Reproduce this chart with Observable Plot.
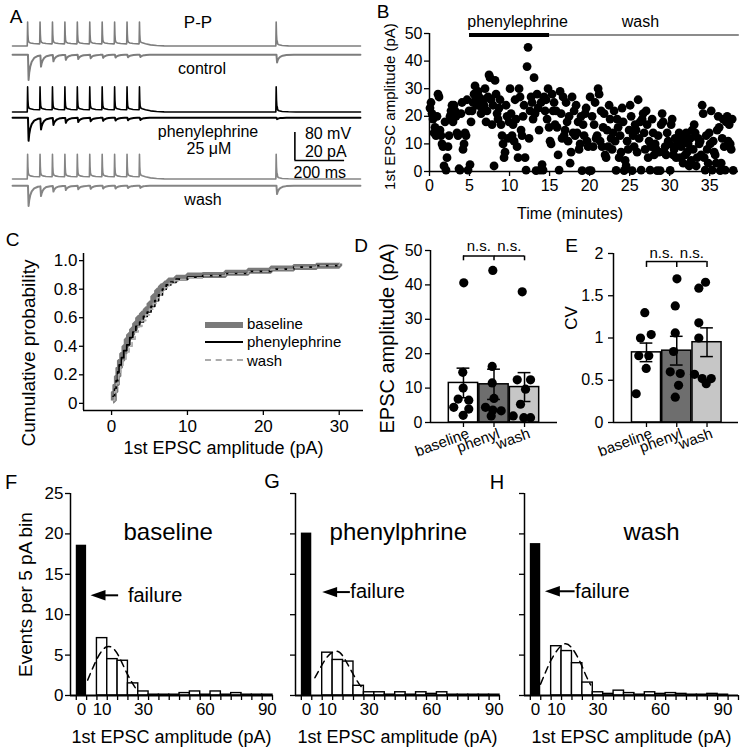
<!DOCTYPE html>
<html>
<head>
<meta charset="utf-8">
<script src="https://cdn.jsdelivr.net/npm/d3@7"></script>
<script src="https://cdn.jsdelivr.net/npm/@observablehq/plot@0.6"></script>
<style>
html,body{margin:0;padding:0;background:#fff;}
#fig{position:relative;width:749px;height:755px;overflow:hidden;background:#fff;font-family:"Liberation Sans",Arial,Helvetica,sans-serif;color:#000;}
.lbl{position:absolute;line-height:1;white-space:nowrap;}
</style>
</head>
<body>
<div id="fig"></div>
<script>
// ================= DATA =================
// --- A: example traces (P-P paired recording) ---
const spikeTimesMs = [60, 110, 160, 210, 260, 310, 360, 410, 460, 510, 1060];
const traceEndMs = 1400;
const restPotentialMv = -65;
const spikePeakMv = [68, 71, 70];               // control, phenylephrine, wash
const epscControlPa = [-18, -8, -4.5, -3.5, -3, -2.5, -2.2, -2, -1.8, -1.6, -5.5];
const epscPhenylPa  = [-16.5, -8, -5, -3.5, -3, -2.5, -2.2, -2, -1.8, -1.6, -1];
const epscWashPa    = [-14.5, -7, -4, -3, -2.5, -2.2, -2, -2, -1.6, -1.5, -6];
// waveform templates: [ms after spike, fraction of peak]
const spikeRise = [[0.8, 1], [2, 0.5], [3.5, 0.25], [6, 0.16]];
const interSpikeDecay = [[12, 0.125], [25, 0.1], [48, 0.088]];
const trainEndDecay = [[12, 0.13], [25, 0.09], [45, 0.045], [70, 0.018], [100, 0.005], [140, 0]];
const singleSpikeDecay = [[6, 0.09], [12, 0.05], [25, 0.02], [50, 0.006], [80, 0]];
const epscShape = [[0, 0], [2.5, 1], [5, 0.72], [9, 0.48], [15, 0.28], [25, 0.13], [40, 0.05], [70, 0]];
const synDelayMs = 2;
const scaleBarMs = 200, scaleBarMv = 80, scaleBarPa = 20;

// --- B: 1st EPSC amplitude over time (one sweep every 7.5 s) ---
const sweepIntervalMin = 0.125;
const bAmplitudesPa = [
  23,25,21,19,14,16,13,20,   28,27,15,13,10,9,2,18,    0.5,5,9,13,20,22,24,18,   24,22,20,14,13,1,0.5,21,
  25,8,10,14,13,26,0.5,22,   2.5,18,22,25,28,31,27,24, 29,27,25,21,23,26,24,30,  18,22,27,35,34,26,17,24,
  2,33,28,21,19,23,26,17,    13,10,5,7,24,20,12,18,    30,21,13,17,11,26,19,9,   5,30,27,15,13,20,24,5,
  0.5,38,45,12,22,27,25,19,  34,21,0.3,28,23,15,0.5,25,2.5,0.5,27,22,26,19,30,16,11,10,28,22,25,17,22,16,
  6,0.5,29,21,12,27,13,15,   25,18,11,20,3,7,27,14,    22,13,24,14,18,8,10,20,   0.3,17,13,21,23,11,9,0.3,
  27,0.3,20,9,17,25,12,13,   30,28,11,22,9,16,21,6,    5,15,9,24,19,12,8,14,     22,11,0.4,19,16,5,13,7,
  23,18,0.3,4,2,11,8,15,     24,20,0.3,13,9,17,15,7,   26,12,18,0.5,19,21,14,8,  22,17,5,11,0.5,9,19,14,
  6,10,8,0.3,13,7,0.3,17,    21,18,7,9,6,14,11,10,     0.4,17,19,6,8,12,5,10,    12,14,5,9,13,3,11,6,
  14,7,10,2,12,4,15,8,       17,14,2,5,12,10,11,6,     24,21,5,0.5,13,8,3,14,    10,22,0.5,11,7,6,3,15,
  20,16,0.3,3,12,19,9,0.5,   18,20,11,17,10,8,19,0.4
];
const treatmentLabels = ["phenylephrine", "wash"];
const treatmentStartMin = [5, 15];
const treatmentEndMin = [15, 38.7];

// --- C: cumulative distributions ---
const cdfBaselineAmp  = [0.2,0.3,0.5,0.7,0.9,1.1,1.4,1.7,2.0,2.3,2.7,3.1,3.5,4.0,4.5,5.0,5.5,6.0,6.5,7.0,7.5,8.5,10,12,15,18,21,24,27,30];
const cdfBaselineProb = [0.02,0.08,0.13,0.19,0.25,0.30,0.35,0.40,0.45,0.48,0.52,0.56,0.60,0.63,0.66,0.70,0.75,0.79,0.82,0.84,0.86,0.88,0.895,0.90,0.915,0.93,0.945,0.955,0.965,0.98];
const cdfPhenylAmp  = [0.2,0.4,0.6,0.8,1.0,1.3,1.6,2.0,2.4,2.8,3.2,3.7,4.2,4.7,5.2,5.7,6.2,6.7,7.2,7.8,8.5,10,12,15,18,21,24,27,30];
const cdfPhenylProb = [0.05,0.10,0.16,0.22,0.27,0.32,0.37,0.41,0.46,0.50,0.54,0.57,0.61,0.64,0.68,0.72,0.76,0.80,0.83,0.85,0.87,0.885,0.895,0.91,0.925,0.94,0.955,0.965,0.98];
const cdfWashAmp  = [0.2,0.4,0.6,0.9,1.2,1.5,1.9,2.3,2.7,3.1,3.5,4.0,4.5,5.0,5.5,6.0,6.5,7.0,7.6,8.3,9,10,12,15,18,21,24,27,30];
const cdfWashProb = [0.02,0.08,0.14,0.20,0.26,0.31,0.36,0.40,0.45,0.50,0.54,0.58,0.62,0.66,0.70,0.74,0.78,0.81,0.84,0.86,0.87,0.88,0.895,0.91,0.925,0.94,0.955,0.965,0.98];

// --- D / E: summary bars ---
const groupLabels = ["baseline", "phenyl", "wash"];
const dMeanPa = [11.5, 11.1, 10.3];
const dSemPa = [4.3, 4.4, 4.2];
const dBaselineCells = [40.6, 14.6, 10.0, 6.8, 6.5, 4.4, 3.9, 2.1];
const dPhenylCells   = [44.2, 16.3, 11.5, 7.0, 4.4, 3.6, 3.4, 1.9];
const dWashCells     = [38.0, 12.4, 12.4, 9.7, 5.3, 1.9, 1.4, 1.4];
const eMeanCv = [0.83, 0.85, 0.95];
const eSemCv = [0.11, 0.17, 0.17];
const eBaselineCells = [1.30, 1.00, 1.04, 0.79, 0.79, 0.64, 0.34];
const ePhenylCells   = [1.70, 1.38, 1.06, 0.84, 0.60, 0.58, 0.44, 0.30];
const eWashCells     = [1.66, 1.59, 1.18, 1.00, 0.57, 0.52, 0.52, 0.46];
const significance = ["n.s.", "n.s."];

// --- F / G / H: amplitude histograms (5 pA bins) ---
const histBinCentersPa = [10,15,20,25,30,35,40,45,50,55,60,65,70,75,80,85,90];
const histBaseline = [7.1,4.5,4.3,1.5,0.5,0.1,0.1,0.1,0.3,0.5,0.1,0.5,0.1,0.3,0.1,0.1,0.1];
const histPhenyl   = [5.3,4.4,4.2,1.2,0.4,0.4,0.1,0.4,0.1,0.4,0.2,0.4,0.1,0.1,0.1,0.1,0.1];
const histWash     = [6.1,5.5,4.0,1.6,0.4,0.2,0.6,0.3,0.1,0.4,0.2,0.3,0.2,0.1,0.1,0.2,0.1];
const failureCounts = [18.6, 20.1, 18.8];
const fitBaseline = [[3,1.9],[6,3.7],[9,5.2],[12,6.0],[15,5.9],[18,4.9],[21,3.3],[24,1.8],[26.5,0.8]];
const fitPhenyl   = [[4,2.2],[7,3.6],[10,4.8],[13,5.4],[16,5.3],[19,4.2],[22,2.8],[25,1.5],[27,0.9]];
const fitWash     = [[2.4,1.4],[5,3.0],[7.5,4.4],[11,5.8],[14.5,6.4],[18,5.7],[21.5,4.1],[24,2.6],[26.5,1.3]];
const histTitles = ["baseline", "phenylphrine", "wash"];

// ================= RENDER =================
const FONT = '"Liberation Sans", Arial, Helvetica, sans-serif';
const fig = document.getElementById("fig");
const baseStyle = {fontFamily: FONT, fontSize: "16px", color: "black", background: "transparent", overflow: "visible"};
function mount(svg, left, top) {
  svg.style.position = "absolute";
  svg.style.left = left + "px";
  svg.style.top = top + "px";
  svg.style.maxWidth = "none";
  svg.style.overflow = "visible";
  svg.style.background = "transparent";
  fig.appendChild(svg);
}
function label(txt, cx, cy, size, align = "center") {
  const d = document.createElement("div");
  d.className = "lbl";
  d.textContent = txt;
  d.style.fontSize = size + "px";
  d.style.left = cx + "px";
  d.style.top = cy + "px";
  d.style.transform = align === "center" ? "translate(-50%,-50%)" : "translate(0,-50%)";
  fig.appendChild(d);
}

// ---------- Panel A ----------
function voltageTrace(peak) {
  const pts = [{t: 0, v: restPotentialMv}];
  spikeTimesMs.forEach((s, k) => {
    pts.push({t: s - 0.6, v: pts[pts.length - 1].v});
    const tail = k < 9 ? interSpikeDecay : k === 9 ? trainEndDecay : singleSpikeDecay;
    for (const [dt, f] of [...spikeRise, ...tail]) pts.push({t: s + dt, v: restPotentialMv + f * peak});
  });
  pts.push({t: traceEndMs, v: restPotentialMv});
  return pts;
}
function tpl(shape, x) {
  if (x <= shape[0][0] || x >= shape[shape.length - 1][0]) return 0;
  for (let k = 1; k < shape.length; k++) {
    if (x <= shape[k][0]) {
      const [x0, y0] = shape[k - 1], [x1, y1] = shape[k];
      return y0 + (y1 - y0) * (x - x0) / (x1 - x0);
    }
  }
  return 0;
}
function currentTrace(amps) {
  const knots = new Set([0, traceEndMs]);
  spikeTimesMs.forEach(s => epscShape.forEach(([dt]) => knots.add(s + synDelayMs + dt)));
  return [...knots].sort((a, b) => a - b).map(t => ({
    t, i: d3.sum(spikeTimesMs, (s, k) => amps[k] * tpl(epscShape, t - s - synDelayMs))
  }));
}
const A_LEFT = 12, A_W = 348;
const V_DOMAIN = [-75, 10], V_H = 30;
const I_DOMAIN = [-20, 3], I_H = 32.2;
function tracePlot(data, key, domain, h, color, sw) {
  return Plot.plot({
    width: A_W, height: h, margin: 0, style: baseStyle,
    x: {domain: [0, traceEndMs], axis: null}, y: {domain: domain, axis: null},
    marks: [Plot.line(data, {x: "t", y: key, stroke: color, strokeWidth: sw})]
  });
}
const aRows = [
  {peak: spikePeakMv[0], epsc: epscControlPa, color: "#7d7d7d", vBase: 45, iBase: 54},
  {peak: spikePeakMv[1], epsc: epscPhenylPa, color: "#000000", vBase: 111, iBase: 117},
  {peak: spikePeakMv[2], epsc: epscWashPa, color: "#858585", vBase: 178, iBase: 185}
];
const vRestPix = V_H - (restPotentialMv - V_DOMAIN[0]) / (V_DOMAIN[1] - V_DOMAIN[0]) * V_H;
const iZeroPix = I_H * (I_DOMAIN[1]) / (I_DOMAIN[1] - I_DOMAIN[0]);
aRows.forEach(r => {
  mount(tracePlot(voltageTrace(r.peak), "v", V_DOMAIN, V_H, r.color, 1.6), A_LEFT, r.vBase - vRestPix);
  mount(tracePlot(currentTrace(r.epsc), "i", I_DOMAIN, I_H, r.color, 2.0), A_LEFT, r.iBase - iZeroPix);
});
// scale bar (80 mV / 20 pA vertical, 200 ms horizontal)
const barAt = 1136;
mount(Plot.plot({
  width: A_W, height: 28, margin: 0, style: baseStyle,
  x: {domain: [0, traceEndMs], axis: null}, y: {domain: [0, scaleBarMv], axis: null},
  marks: [
    Plot.ruleX([barAt], {y1: 0, y2: scaleBarMv, strokeWidth: 1.6}),
    Plot.ruleY([0], {x1: barAt, x2: barAt + scaleBarMs, strokeWidth: 1.6}),
    Plot.text([`${scaleBarMv} mV`], {x: barAt, y: 77, dx: 10, textAnchor: "start", fontSize: 16}),
    Plot.text([`${scaleBarPa} pA`], {x: barAt, y: 26, dx: 10, textAnchor: "start", fontSize: 16}),
    Plot.text([`${scaleBarMs} ms`], {x: barAt + scaleBarMs / 2, y: -36, fontSize: 16})
  ]
}), A_LEFT, 132);
label("P-P", 198, 21.5, 17);
label("control", 202, 69, 16);
label("phenylephrine", 208, 131.5, 16);
label("25 μM", 209, 148.5, 16);
label("wash", 203, 200, 16);

// ---------- Panel B ----------
const bData = bAmplitudesPa.map((a, k) => ({t: (k + 0.5) * sweepIntervalMin, amp: a}));
const periods = treatmentLabels.map((l, k) => ({label: l, start: treatmentStartMin[k], end: treatmentEndMin[k]}));
mount(Plot.plot({
  width: 374, height: 220, marginLeft: 54, marginRight: 11, marginTop: 33, marginBottom: 49,
  style: baseStyle,
  x: {domain: [0, 38.6]}, y: {domain: [0, 50]},
  marks: [
    Plot.ruleX([0], {y1: 0, y2: 50, strokeWidth: 1.5}),
    Plot.ruleY([0], {x1: 0, x2: 38.6, strokeWidth: 1.5}),
    Plot.axisX({ticks: [0, 5, 10, 15, 20, 25, 30, 35], tickSize: 5, tickPadding: 3, fontSize: 16, strokeWidth: 1.3, label: null}),
    Plot.axisY({ticks: [0, 10, 20, 30, 40, 50], tickSize: 5, tickPadding: 2, fontSize: 16, strokeWidth: 1.3, label: null}),
    Plot.dot(bData, {x: "t", y: "amp", r: 4.4, fill: "black"}),
    Plot.ruleY(periods.slice(1), {y: 49.5, x1: "start", x2: "end", stroke: "#8c8c8c", strokeWidth: 2}),
    Plot.ruleY(periods.slice(0, 1), {y: 49.5, x1: "start", x2: "end", stroke: "black", strokeWidth: 4}),
    Plot.text(periods.slice(0, 1), {x: d => (d.start + d.end) / 2, y: 49.5, text: "label", dy: -13, dx: 8, fontSize: 16}),
    Plot.text(periods.slice(1), {x: d => (d.start + d.end) / 2, y: 49.5, text: "label", dy: -13, dx: -4, fontSize: 16}),
    Plot.text(["1st EPSC amplitude (pA)"], {frameAnchor: "left", rotate: -90, dx: -39, dy: 4, textAnchor: "middle", lineAnchor: "middle", fontSize: 15}),
    Plot.text(["Time (minutes)"], {frameAnchor: "bottom", dy: 42, dx: -14, lineAnchor: "middle", fontSize: 16})
  ]
}), 375, 0);

// ---------- Panel C ----------
const toPts = (xs, ys) => xs.map((x, k) => ({x, p: ys[k]}));
mount(Plot.plot({
  width: 370, height: 235, marginLeft: 83, marginRight: 7, marginTop: 28, marginBottom: 50,
  style: baseStyle,
  x: {domain: [-3.7, 33.2]}, y: {domain: [-0.05, 1.05]},
  marks: [
    Plot.ruleX([-3.7], {y1: -0.05, y2: 1.05, strokeWidth: 1.5}),
    Plot.ruleY([-0.05], {x1: -3.7, x2: 33.2, strokeWidth: 1.5}),
    Plot.axisY({ticks: [0, 0.2, 0.4, 0.6, 0.8, 1], tickSize: 4, tickPadding: 2, tickFormat: d => d === 0 ? "0" : d.toFixed(1), fontSize: 17, strokeWidth: 1.3, label: null}),
    Plot.axisX({ticks: [0, 10, 20, 30], tickSize: 5, tickPadding: 4, fontSize: 17, strokeWidth: 1.3, label: null}),
    Plot.line(toPts(cdfBaselineAmp, cdfBaselineProb), {x: "x", y: "p", curve: "step-after", stroke: "#7a7a7a", strokeWidth: 6, strokeLinecap: "butt", strokeLinejoin: "miter"}),
    Plot.line(toPts(cdfPhenylAmp, cdfPhenylProb), {x: "x", y: "p", curve: "step-after", stroke: "black", strokeWidth: 1.7}),
    Plot.line(toPts(cdfWashAmp, cdfWashProb), {x: "x", y: "p", curve: "step-after", stroke: "#ababab", strokeWidth: 1.7, strokeDasharray: "5,4"}),
    Plot.text(["Cumulative probability"], {frameAnchor: "left", rotate: -90, dx: -55, dy: 21, textAnchor: "middle", lineAnchor: "middle", fontSize: 19}),
    Plot.text(["1st EPSC amplitude (pA)"], {frameAnchor: "bottom", dy: 38, lineAnchor: "middle", fontSize: 18})
  ]
}), 0, 225);
// legend C
function legendSwatch(x1, x2, y, h, css) {
  const d = document.createElement("div");
  d.style.position = "absolute";
  d.style.left = x1 + "px";
  d.style.width = (x2 - x1) + "px";
  d.style.top = (y - h / 2) + "px";
  Object.assign(d.style, css);
  fig.appendChild(d);
}
legendSwatch(205, 243, 324.5, 6, {height: "6px", background: "#7a7a7a"});
legendSwatch(205, 243, 342, 2, {height: "2px", background: "#000"});
legendSwatch(205, 243, 360, 2, {height: "0px", borderTop: "2px dashed #ababab"});
label("baseline", 247, 322.5, 15, "left");
label("phenylephrine", 247, 340.5, 15, "left");
label("wash", 247, 360, 15, "left");

// ---------- Panels D & E ----------
function barPanel(o) {
  const rows = o.means.map((m, k) => ({i: k, mean: m, lo: m - o.sem[k], hi: m + o.sem[k], fill: o.fills[k], name: groupLabels[k]}));
  const dots = o.cells.flatMap((arr, k) => arr.map((v, j) => ({x: k + o.jitter[k][j] / o.step, v})));
  const brackets = significance.map((s, k) => ({a: k, b: k + 1, label: s}));
  return Plot.plot({
    width: o.width, height: 235, marginLeft: o.ml, marginRight: o.mr, marginTop: o.mt, marginBottom: 38,
    style: baseStyle, color: {type: "identity"},
    x: {domain: o.xDomain}, y: {domain: o.yDomain},
    marks: [
      Plot.rect(rows, {x1: d => d.i - 0.48, x2: d => d.i + 0.48, y1: 0, y2: "mean", fill: "fill", stroke: "black", strokeWidth: 1.5}),
      Plot.ruleX(rows, {x: "i", y1: "lo", y2: "hi", strokeWidth: 1.5}),
      Plot.ruleY(rows, {y: "hi", x1: d => d.i - 0.21, x2: d => d.i + 0.21, strokeWidth: 1.5}),
      Plot.ruleY(rows, {y: "lo", x1: d => d.i - 0.21, x2: d => d.i + 0.21, strokeWidth: 1.5}),
      Plot.dot(dots, {x: "x", y: "v", r: 4.6, fill: "black"}),
      Plot.ruleX([o.xDomain[0]], {y1: o.yDomain[0], y2: o.yDomain[1], strokeWidth: 1.5}),
      Plot.ruleY([o.yDomain[0]], {x1: o.xDomain[0], x2: o.xDomain[1], strokeWidth: 1.5}),
      Plot.axisY({ticks: o.yTicks, tickSize: 5, tickPadding: o.tickPad, tickFormat: d => String(d), fontSize: 16, strokeWidth: 1.3, label: null}),
      Plot.axisX({ticks: [0, 1, 2], tickSize: 5, tickFormat: () => "", strokeWidth: 1.3, label: null}),
      Plot.text(rows, {x: "i", y: o.yDomain[0], text: "name", rotate: -20, textAnchor: "end", lineAnchor: "top", dy: 5, dx: 3, fontSize: 15}),
      Plot.ruleY(brackets, {y: o.bracketLevel, x1: "a", x2: "b", strokeWidth: 1.5}),
      Plot.ruleX([0, 1, 2], {x: d => d, y1: o.bracketTick, y2: o.bracketLevel, strokeWidth: 1.5}),
      Plot.text(brackets, {x: d => (d.a + d.b) / 2, y: o.bracketLevel, text: "label", dy: o.nsDy, fontSize: 15}),
      Plot.text([o.title], {frameAnchor: "left", rotate: -90, dx: o.titleDx, dy: o.titleDy, textAnchor: "middle", lineAnchor: "middle", fontSize: o.titleSize})
    ]
  });
}
const barFills = ["#ffffff", "#6e6e6e", "#c6c6c6"];
mount(barPanel({
  width: 275, ml: 140, mr: 8, mt: 25, xDomain: [-1.08, 3.08], step: 30.5,
  yDomain: [0, 50], yTicks: [0, 10, 20, 30, 40, 50], tickPad: 3,
  means: dMeanPa, sem: dSemPa, fills: barFills,
  cells: [dBaselineCells, dPhenylCells, dWashCells],
  jitter: [[0.3, -0.7, -0.3, -5.3, 5.3, -9.7, 5.3, -0.3], [-1.2, -1.8, -1.8, 0, -8.5, -1.2, 7.2, -2.8], [-2.3, -7.3, 6, 1, -4, -11.3, -0.7, 6]],
  bracketLevel: 48.4, bracketTick: 47.0, nsDy: -10,
  title: "EPSC amplitude (pA)", titleDx: -43, titleDy: 2, titleSize: 20
}), 290, 225);
mount(barPanel({
  width: 184, ml: 48, mr: 11, mt: 28, xDomain: [-1.09, 3.04], step: 30.25,
  yDomain: [0, 2], yTicks: [0, 0.5, 1, 1.5, 2], tickPad: 5,
  means: eMeanCv, sem: eSemCv, fills: barFills,
  cells: [eBaselineCells, ePhenylCells, eWashCells],
  jitter: [[-1.7, -6, 4.7, -7.7, 2.3, -0.3, -10.3], [0.2, -1.5, -1.5, -3.2, -6.5, 3.5, 1.8, -1.5], [-1.5, -8.2, -8.2, -8.2, -12.5, -4.8, 4.2, -0.8]],
  bracketLevel: 1.905, bracketTick: 1.835, nsDy: -8.5,
  title: "CV", titleDx: -42, titleDy: -20, titleSize: 17
}), 565, 225);

// ---------- Panels F, G, H ----------
const leftHead = {
  draw(ctx, size) {
    const r = Math.sqrt(size / Math.PI);
    ctx.moveTo(0, 0);
    ctx.lineTo(2.3 * r, -0.8 * r);
    ctx.lineTo(2.3 * r, 0.8 * r);
    ctx.closePath();
  }
};
function histPanel(o) {
  const bins = histBinCentersPa.map((c, k) => ({x1: c - 2.5, x2: c + 2.5, n: o.counts[k]}));
  const edges = d3.range(-2.5, o.xMax + 0.1, 5);
  return Plot.plot({
    width: o.width, height: 275, marginLeft: o.ml, marginRight: o.mr, marginTop: 13, marginBottom: 60,
    style: baseStyle,
    x: {domain: [-5.3, o.xMax]}, y: {domain: [0, 25]},
    marks: [
      Plot.rect([o.failures], {x1: -2.5, x2: 2.5, y1: 0, y2: d => d, fill: "black"}),
      Plot.rect(bins, {x1: "x1", x2: "x2", y1: 0, y2: "n", fill: "white", stroke: "black", strokeWidth: 1.4}),
      Plot.line(o.fit, {x: d => d[0], y: d => d[1], stroke: "black", strokeWidth: 1.5, strokeDasharray: "7,5", curve: "natural"}),
      Plot.ruleX([-5.3], {y1: 0, y2: 25, strokeWidth: 1.5}),
      Plot.ruleY([0], {x1: -5.3, x2: o.xMax, strokeWidth: 2}),
      Plot.axisY({ticks: [0, 5, 10, 15, 20, 25], tickSize: 5, tickPadding: 2, tickFormat: o.yLabels ? (d => String(d)) : (() => ""), fontSize: 17, strokeWidth: 1.3, label: null}),
      Plot.axisX({ticks: edges, tickSize: 5, tickFormat: () => "", strokeWidth: 1.3, label: null}),
      Plot.axisX({ticks: [0, 10, 30, 60, 90], tickSize: 0, tickPadding: 7, fontSize: 17, label: null}),
      Plot.ruleY([o.arrow], {y: "y", x1: d => d.tip + 3, x2: "end", strokeWidth: 2}),
      Plot.dot([o.arrow], {x: "tip", y: "y", r: 6.5, symbol: leftHead, fill: "black", stroke: "none"}),
      Plot.text([o.arrow], {x: "textAt", y: "y", text: () => "failure", textAnchor: "start", fontSize: 20}),
      Plot.text([o.title], {x: o.titleX, y: 20.2, fontSize: 24}),
      Plot.text(["1st EPSC amplitude (pA)"], {frameAnchor: "bottom", dy: 42, lineAnchor: "middle", fontSize: 18}),
      o.yLabels ? Plot.text(["Events per 5 pA bin"], {frameAnchor: "left", rotate: -90, dx: -45, textAnchor: "middle", lineAnchor: "middle", fontSize: 19}) : null
    ]
  });
}
mount(histPanel({
  width: 282, ml: 70, mr: 10, xMax: 92.5, counts: histBaseline, failures: failureCounts[0], fit: fitBaseline,
  title: histTitles[0], titleX: 42, yLabels: true, arrow: {tip: 4.4, end: 18, textAt: 22.5, y: 12.4}
}), 0, 480);
mount(histPanel({
  width: 225, ml: 13, mr: 8, xMax: 92.5, counts: histPhenyl, failures: failureCounts[1], fit: fitPhenyl,
  title: histTitles[1], titleX: 44, yLabels: false, arrow: {tip: 7.5, end: 21, textAt: 21, y: 12.8}
}), 282, 480);
mount(histPanel({
  width: 242, ml: 17, mr: 11, xMax: 97.5, counts: histWash, failures: failureCounts[2], fit: fitWash,
  title: histTitles[2], titleX: 55.7, yLabels: false, arrow: {tip: 4.5, end: 19, textAt: 19, y: 12.9}
}), 507, 480);

// ---------- panel letters ----------
label("A", 16, 15.5, 19);
label("B", 383, 10.5, 19);
label("C", 12.5, 238.5, 19);
label("D", 361, 244.5, 19);
label("E", 571.5, 244.5, 19);
label("F", 11, 482, 20);
label("G", 272, 481, 20);
label("H", 497, 482, 20);
</script>
</body>
</html>
